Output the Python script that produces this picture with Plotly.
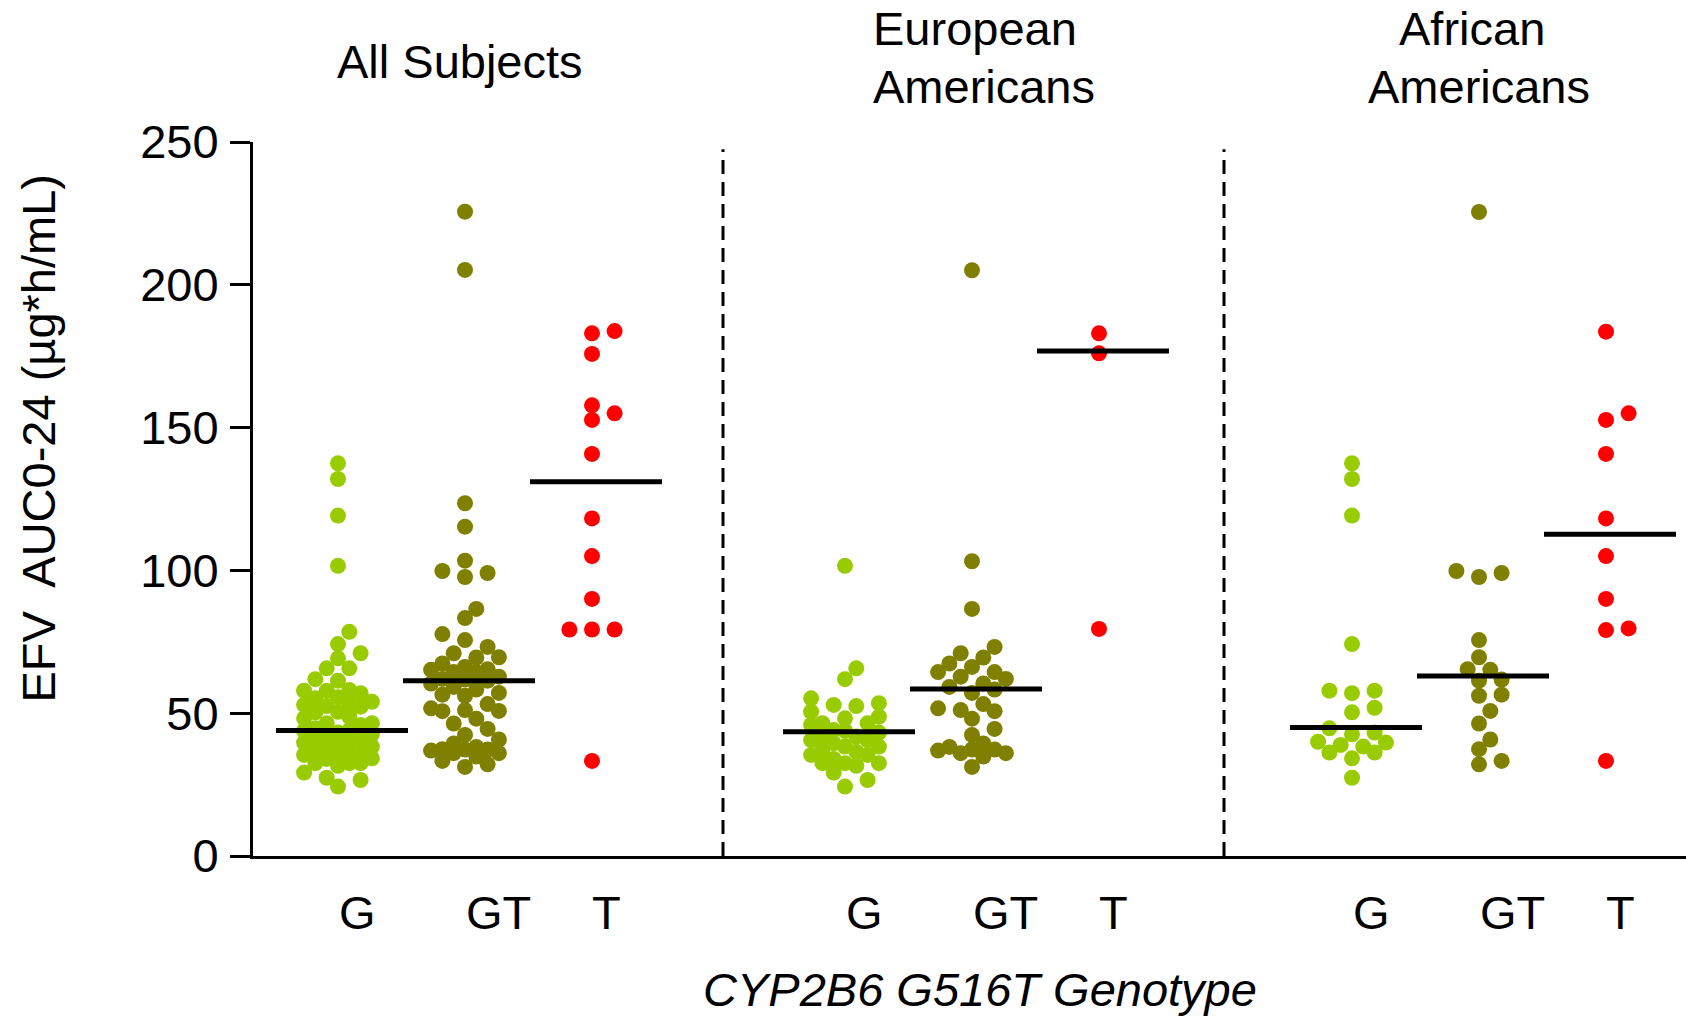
import plotly.graph_objects as go
import numpy as np

# ---------------- data (EFV AUC0-24, ug*h/mL) ----------------
panels = ["All Subjects", "European Americans", "African Americans"]
genotypes = ["G", "GT", "T"]

all_G = [137.5, 132.0, 119.2, 101.6, 78.5, 74.2, 71.0, 69.2, 65.7, 65.7, 61.9, 61.4,
         58.1, 57.9, 57.9, 57.0, 55.6, 55.2, 54.0, 53.5, 52.9, 52.5, 52.3,
         50.5, 50.3, 48.8, 48.2, 46.5, 46.5, 45.9, 44.7, 44.1,
         43.8, 43.2, 42.6, 41.8, 40.6, 40.6, 40.0, 39.7, 38.9,
         38.3, 38.3, 37.2, 36.2, 36.2, 35.4, 35.4, 34.2, 34.0, 32.5, 32.5,
         32.5, 31.6, 29.2, 27.4, 26.6, 24.3]
all_GT = [225.6, 205.2, 123.5, 115.3, 103.4, 99.8, 99.1, 97.7, 86.5, 83.3, 77.7, 75.6,
          73.2, 71.0, 69.6, 69.5, 67.4, 66.2, 65.4, 65.2, 64.4, 64.4, 62.8, 62.0, 61.8,
          61.4, 60.4, 59.2, 58.3, 57.1, 56.5, 56.1, 53.2, 51.7, 51.1, 50.8, 50.7, 48.1,
          46.4, 44.5, 42.4, 40.8, 39.4, 38.2, 37.4, 37.3, 37.3, 36.9, 36.0, 36.0, 34.8,
          33.3, 32.1, 31.2]
all_T = [183.8, 183.0, 175.8, 157.8, 155.0, 152.7, 140.8, 118.2, 105.0, 90.0,
         79.3, 79.3, 79.3, 33.3]

eur_G = [101.6, 65.7, 61.9, 55.2, 53.5, 52.9, 52.5, 50.5, 48.8, 48.2,
         46.5, 46.5, 45.9, 44.1, 43.8, 43.2, 41.8, 41.8, 40.6,
         40.6, 39.5, 38.3, 38.3, 37.2, 36.5, 35.4, 35.4, 34.0, 32.5, 32.5, 32.5, 31.6,
         29.2, 26.6, 24.3]
eur_GT = [205.1, 103.2, 86.5, 73.2, 71.0, 69.5, 67.4, 66.2, 64.4, 64.4, 62.8, 62.0,
          60.4, 59.2, 58.3, 57.1, 53.2, 51.7, 51.1, 50.7, 48.1, 44.5, 42.4, 39.4, 38.2,
          37.3, 37.3, 36.9, 36.0, 36.0, 34.8, 31.2]
eur_T = [183.0, 176.0, 79.5]

afr_G = [137.5, 132.0, 119.2, 74.2, 57.9, 57.9, 57.0, 51.9, 50.3, 44.7, 43.2, 42.6,
         40.0, 39.7, 38.9, 38.3, 36.2, 36.2, 34.2, 27.4]
afr_GT = [225.5, 99.8, 99.1, 97.7, 75.6, 69.6, 65.4, 65.2, 61.8, 61.4, 56.5, 56.1,
          50.8, 46.4, 40.8, 37.4, 33.3, 32.1]
afr_T = [183.6, 155.0, 152.7, 140.8, 118.2, 105.0, 90.0, 79.7, 79.1, 33.3]

# medians (horizontal bars)
medians_all = [43.9, 61.4, 131.0]
medians_eur = [43.5, 58.5, 176.8]
medians_afr = [45.0, 63.0, 112.7]

y_ticks = [0, 50, 100, 150, 200, 250]

# ---------------- layout constants ----------------
FONT = "Liberation Sans, Arial, sans-serif"
FS = 47
W, H = 1686, 1018
ML, MR, MT, MB = 253, 0, 142, 162
PLOT_W = W - ML - MR
PLOT_H = H - MT - MB
PX_PER_UNIT = PLOT_H / 250.0
PANEL_STEP = 507
GROUP_POS = [85, 212, 339]         # dot centres within a panel (x units = px)
LABEL_POS = [104, 245.5, 353.5]    # tick-label centres within a panel
COLORS = ["#99CC00", "#808000", "#FF0000"]
MARKER = 16
MED_HALF = 66
DIVIDERS = [470, 971]


def swarm(values, step=11.3, mind=14.0, maxk=3):
    """Deterministic dot-plot layout: columns at multiples of `step`,
    at most `maxk` columns each side; overlap allowed when crowded."""
    placed, res = [], [0.0] * len(values)
    order = sorted(range(len(values)), key=lambda i: values[i])
    cand = [0]
    for k in range(1, maxk + 1):
        cand += [k, -k]
    for i in order:
        y = values[i] * PX_PER_UNIT
        best, best_d = None, -1.0
        for k in cand:
            x = k * step
            d = min([((x - px) ** 2 + (y - py) ** 2) ** 0.5 for px, py in placed] or [1e9])
            if d >= mind:
                best = x
                break
            if d > best_d + 1e-9:
                best, best_d = x, d
        placed.append((best, y))
        res[i] = best
    return res


data = [[all_G, all_GT, all_T], [eur_G, eur_GT, eur_T], [afr_G, afr_GT, afr_T]]
medians = [medians_all, medians_eur, medians_afr]

fig = go.Figure()
shapes = []
annotations = []

for p in range(3):
    for g in range(3):
        vals = data[p][g]
        cx = p * PANEL_STEP + GROUP_POS[g]
        offs = swarm(vals)
        fig.add_trace(go.Scatter(
            x=[cx + o for o in offs], y=vals, mode="markers",
            marker=dict(size=MARKER, color=COLORS[g], line=dict(width=0)),
            showlegend=False, hoverinfo="y"))
        m = medians[p][g]
        fig.add_trace(go.Scatter(
            x=[cx + 4 - MED_HALF, cx + 4 + MED_HALF], y=[m, m], mode="lines",
            line=dict(color="black", width=5), showlegend=False, hoverinfo="skip"))
        annotations.append(dict(
            x=p * PANEL_STEP + LABEL_POS[g], y=(0 - 56) / PLOT_H, xref="x", yref="paper",
            text=genotypes[g], showarrow=False, xanchor="center", yanchor="middle",
            font=dict(family=FONT, size=FS, color="black")))

for dx in DIVIDERS:
    shapes.append(dict(type="line", xref="x", yref="y", x0=dx, x1=dx, y0=0, y1=247.5,
                       line=dict(color="black", width=3, dash="14px,8px")))


def ypaper(px_from_top):
    return (MT + PLOT_H - px_from_top) / PLOT_H


headers = [
    ("All Subjects", 207, 62, "center"),
    ("European", 618, 29, "left"),
    ("Americans", 618, 86, "left"),
    ("African", 1218.5, 29, "center"),
    ("Americans", 1226, 86, "center"),
]
for txt, x, ypx, anc in headers:
    annotations.append(dict(x=x, y=ypaper(ypx), xref="x", yref="paper", text=txt,
                            showarrow=False, xanchor=anc, yanchor="middle",
                            font=dict(family=FONT, size=FS, color="black")))

annotations.append(dict(x=(37.6 - ML) / PLOT_W, y=ypaper(438), xref="paper", yref="paper",
                        text="EFV  AUC0-24 (µg*h/mL)", textangle=-90, showarrow=False,
                        xanchor="center", yanchor="middle",
                        font=dict(family=FONT, size=FS, color="black")))
annotations.append(dict(x=727, y=ypaper(989), xref="x", yref="paper",
                        text="<i>CYP2B6 G516T Genotype</i>", showarrow=False,
                        xanchor="center", yanchor="middle",
                        font=dict(family=FONT, size=FS, color="black")))

fig.update_layout(
    width=W, height=H,
    margin=dict(l=ML, r=MR, t=MT, b=MB, pad=0),
    plot_bgcolor="white", paper_bgcolor="white",
    shapes=shapes, annotations=annotations,
    xaxis=dict(range=[0, PLOT_W], showgrid=False, zeroline=False, showline=True,
               linecolor="black", linewidth=3, showticklabels=False, ticks="",
               fixedrange=True),
    yaxis=dict(range=[0, 250], tickvals=y_ticks, showgrid=False, zeroline=False,
               showline=True, linecolor="black", linewidth=3, ticks="outside",
               ticklen=20, tickwidth=3, tickcolor="black",
               tickfont=dict(family=FONT, size=FS, color="black"),
               ticklabelstandoff=2, fixedrange=True),
)

fig.write_html(
    "out.html",
    config={"displayModeBar": False},
    post_script="document.body.style.margin='0';document.body.style.overflow='hidden';",
)
